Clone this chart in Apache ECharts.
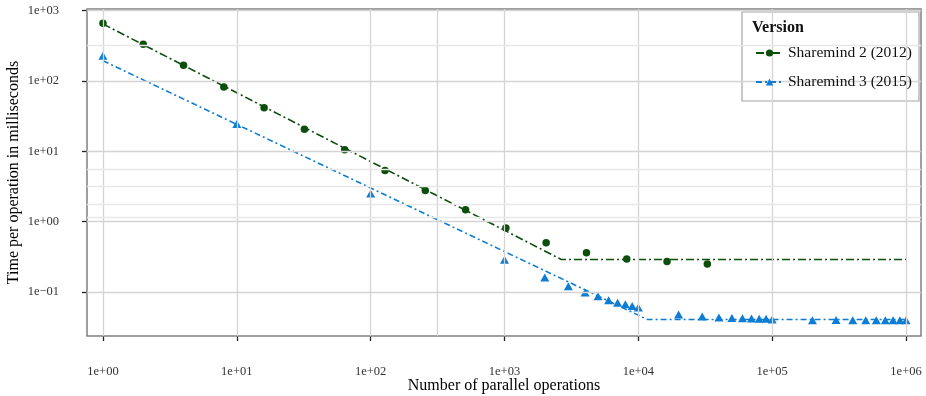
<!DOCTYPE html>
<html>
<head>
<meta charset="utf-8">
<script src="https://cdn.jsdelivr.net/npm/echarts@6/dist/echarts.min.js"></script>
<style>
html,body{margin:0;padding:0;background:#fff;}
#chart{width:926px;height:396px;}
</style>
</head>
<body>
<div id="chart"></div>
<script>
// ---- data ----
const seriesNames = ['Sharemind 2 (2012)', 'Sharemind 3 (2015)'];

const sm2X = [1, 2, 4, 8, 16, 32, 64, 128, 256, 512, 1024, 2048, 4096, 8192, 16384, 32768];
const sm2Y = [660, 330, 166, 82, 41.4, 20.6, 10.5, 5.3, 2.76, 1.47, 0.81, 0.50, 0.36, 0.295, 0.27, 0.25];

const sm3X = [1, 10, 100, 1000, 2000, 3000, 4000, 5000, 6000, 7000, 8000, 9000, 10000,
  20000, 30000, 40000, 50000, 60000, 70000, 80000, 90000, 100000,
  200000, 300000, 400000, 500000, 600000, 700000, 800000, 900000, 1000000];
const sm3Y = [228, 24.3, 2.51, 0.287, 0.160, 0.1205, 0.098, 0.087, 0.076, 0.070, 0.067, 0.063, 0.060,
  0.0477, 0.0447, 0.0432, 0.0425, 0.0423, 0.0420, 0.0415, 0.0415, 0.0405,
  0.0395, 0.0400, 0.0395, 0.0395, 0.0395, 0.0395, 0.0395, 0.0395, 0.0395];

// fitted (piecewise) model lines
const sm2FitX = [1, 2660, 1000000];
const sm2FitY = [643, 0.289, 0.289];
const sm3FitX = [1, 11730, 1000000];
const sm3FitY = [193, 0.0405, 0.0405];

// axes
const xTicks = [1, 10, 100, 1000, 10000, 100000, 1000000];
const xTickLabels = ['1e+00', '1e+01', '1e+02', '1e+03', '1e+04', '1e+05', '1e+06'];
const yTicks = [0.1, 1, 10, 100, 1000];
const yTickLabels = ['1e\u221201', '1e+00', '1e+01', '1e+02', '1e+03'];
const xMinorGrid = [316];
const yMinorGrid = [316, 5.55, 3.13, 1.77, 1.15];

const xTitle = 'Number of parallel operations';
const yTitle = 'Time per operation in milliseconds';
const legendTitle = 'Version';

// ---- chart ----
const FONT = 'Liberation Serif';
const green = '#0c4f0c';
const blue = '#0c7cd5';

function zip(xs, ys) { return xs.map((x, i) => [x, ys[i]]); }
function labelFor(ticks, labels) {
  return function (v) {
    for (let i = 0; i < ticks.length; i++) {
      if (Math.abs(Math.log10(v) - Math.log10(ticks[i])) < 1e-6) return labels[i];
    }
    return '';
  };
}

const majorGridColor = '#d4d4d4';
const minorGridColor = '#e8e8e8';
const gridLines = [];
xTicks.forEach(v => gridLines.push({ xAxis: v, lineStyle: { color: majorGridColor, width: 1.3, type: 'solid' } }));
xMinorGrid.forEach(v => gridLines.push({ xAxis: v, lineStyle: { color: majorGridColor, width: 1.3, type: 'solid' } }));
yTicks.forEach(v => gridLines.push({ yAxis: v, lineStyle: { color: majorGridColor, width: 1.3, type: 'solid' } }));
yMinorGrid.forEach(v => gridLines.push({ yAxis: v, lineStyle: { color: minorGridColor, width: 1.3, type: 'solid' } }));

const chart = echarts.init(document.getElementById('chart'), null, { renderer: 'canvas' });
chart.setOption({
  animation: false,
  backgroundColor: '#fff',
  textStyle: { fontFamily: FONT },
  grid: {
    left: 87, right: 5, top: 9, bottom: 60,
    outerBoundsMode: 'none', containLabel: false,
    show: true, borderColor: '#808080', borderWidth: 1.5, backgroundColor: 'transparent', z: 3
  },
  xAxis: {
    type: 'log',
    min: 0.760, max: 1.294e6,
    name: xTitle, nameLocation: 'middle', nameGap: 42, nameMoveOverlap: false,
    nameTextStyle: { fontFamily: FONT, fontSize: 16, color: '#000' },
    axisLine: { show: false },
    axisTick: { show: true, length: 5, inside: false, customValues: xTicks, lineStyle: { color: '#222', width: 1.3 } },
    axisLabel: { customValues: xTicks, formatter: labelFor(xTicks, xTickLabels), margin: 29,
      fontFamily: FONT, fontSize: 12.5, color: '#333' },
    splitLine: { show: false },
    minorSplitLine: { show: false }
  },
  yAxis: {
    type: 'log',
    min: 0.02366, max: 1050,
    name: yTitle, nameLocation: 'middle', nameGap: 65, nameRotate: 90, nameMoveOverlap: false,
    nameTextStyle: { fontFamily: FONT, fontSize: 16, color: '#000' },
    axisLine: { show: false },
    axisTick: { show: true, length: 5, inside: false, customValues: yTicks, lineStyle: { color: '#222', width: 1.3 } },
    axisLabel: { customValues: yTicks, formatter: labelFor(yTicks, yTickLabels), margin: 28,
      fontFamily: FONT, fontSize: 12.5, color: '#333' },
    splitLine: { show: false }
  },
  legend: {
    data: seriesNames,
    orient: 'vertical',
    left: 750, top: 40,
    itemWidth: 27, itemHeight: 9, itemGap: 13,
    textStyle: { fontFamily: FONT, fontSize: 15.5, color: '#111', padding: [0, 0, 0, 0] },
    selectedMode: false,
    z: 6
  },
  graphic: [
    { type: 'rect', z: 5, shape: { x: 742, y: 12, width: 177, height: 89 },
      style: { fill: '#fff', stroke: '#a6a6a6', lineWidth: 1.2 } },
    { type: 'text', z: 7, left: 752, top: 20,
      style: { text: legendTitle, font: 'bold 16px "Liberation Serif"', fill: '#111' } }
  ],
  series: [
    {
      name: 'grid', type: 'line', data: [], z: 1, silent: true,
      markLine: { silent: true, symbol: ['none', 'none'], label: { show: false }, animation: false,
        lineStyle: { type: 'solid' }, data: gridLines }
    },
    {
      name: seriesNames[0], type: 'line', z: 3, data: zip(sm2FitX, sm2FitY),
      symbol: 'circle', showSymbol: false, color: green,
      lineStyle: { color: green, width: 1.6, type: [8, 3, 2, 3] }
    },
    {
      name: seriesNames[1], type: 'line', z: 3, data: zip(sm3FitX, sm3FitY),
      symbol: 'triangle', showSymbol: false, color: blue,
      lineStyle: { color: blue, width: 1.6, type: [6, 3, 2, 3] }
    },
    {
      name: seriesNames[0], type: 'scatter', z: 4, data: zip(sm2X, sm2Y),
      symbol: 'circle', symbolSize: 7.5, itemStyle: { color: green, opacity: 1 }
    },
    {
      name: seriesNames[1], type: 'scatter', z: 4, data: zip(sm3X, sm3Y),
      symbol: 'triangle', symbolSize: [9, 8], itemStyle: { color: blue, opacity: 1 }
    }
  ]
});
</script>
</body>
</html>
